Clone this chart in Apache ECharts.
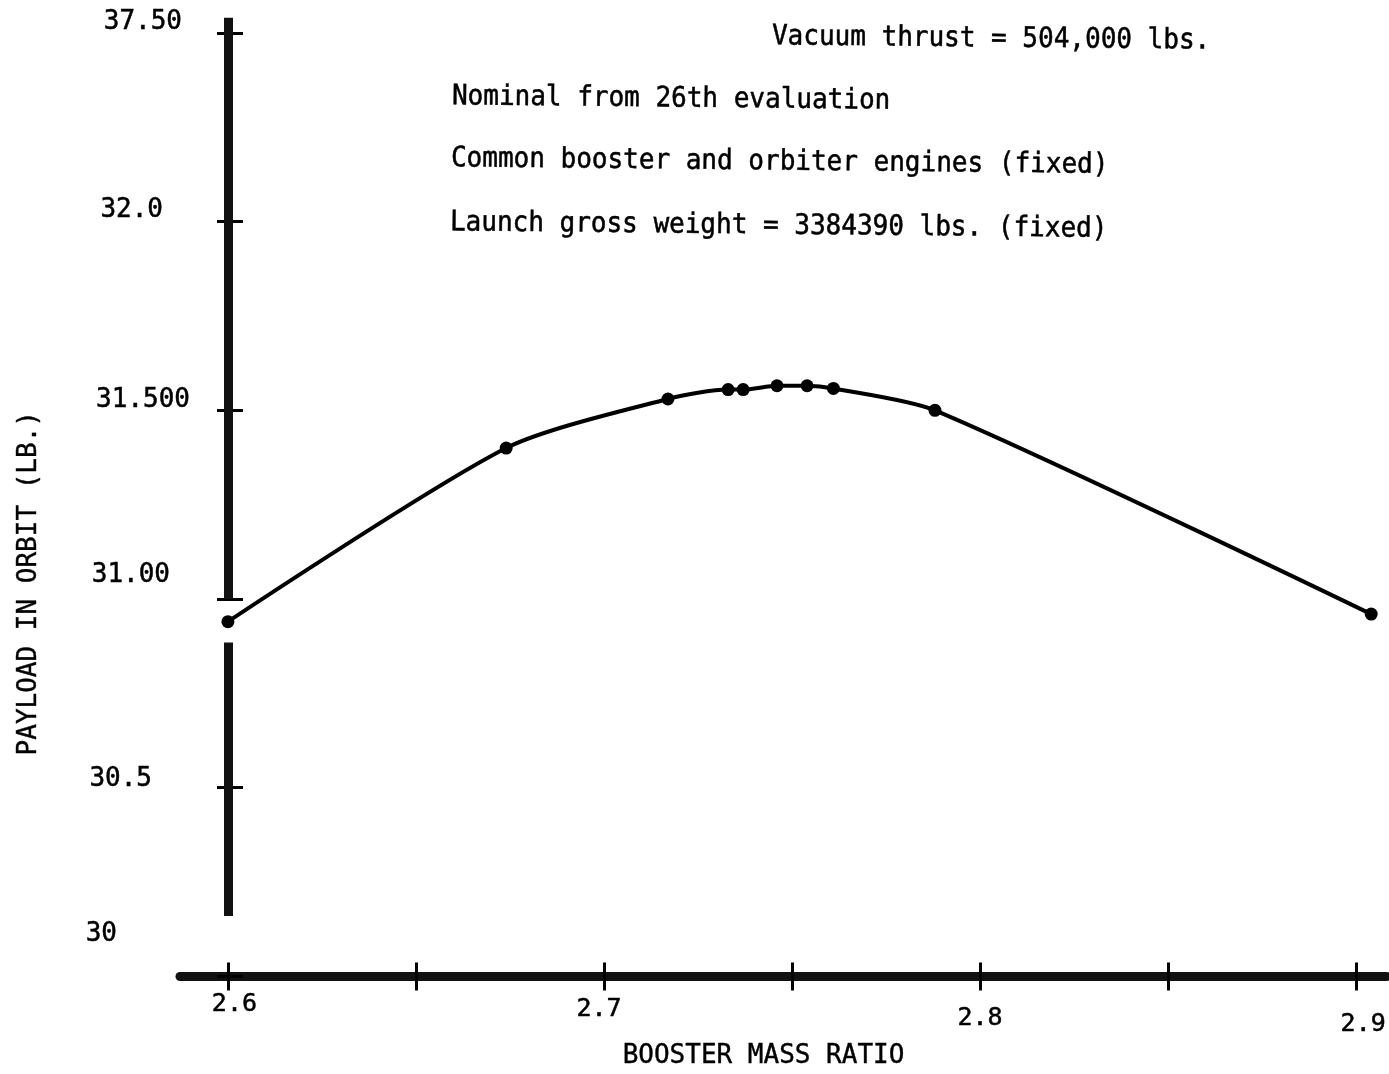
<!DOCTYPE html>
<html>
<head>
<meta charset="utf-8">
<script src="https://cdn.jsdelivr.net/npm/echarts@6/dist/echarts.min.js"></script>
<style>
  html, body { margin: 0; padding: 0; background: #fff; }
  #chart { width: 1389px; height: 1074px; }
</style>
</head>
<body>
<div id="chart"></div>
<script>
// Payload in orbit versus booster mass ratio
const massRatio = [2.600, 2.674, 2.717, 2.733, 2.737, 2.746, 2.754, 2.761, 2.788, 2.904];
const payload   = [30.94, 31.40, 31.53, 31.555, 31.555, 31.565, 31.565, 31.558, 31.50, 30.96];

// Axis ticks and their printed labels
const yTickValues = [30, 30.5, 31, 31.5, 32, 32.5];
const yTickLabels = ['30', '30.5', '31.00', '31.500', '32.0', '37.50'];
const xTickValues = [2.6, 2.65, 2.7, 2.75, 2.8, 2.85, 2.9];
const xLabelValues = [2.6, 2.7, 2.8, 2.9];
const xTickLabels = ['2.6', '2.7', '2.8', '2.9'];

// Payload axis is drawn in two pieces with a break just below 31.0
const yAxisPieces = [[32.54, 31.0], [30.885, 30.16]];

const notes = [
  'Vacuum thrust = 504,000 lbs.',
  'Nominal from 26th evaluation',
  'Common booster and orbiter engines (fixed)',
  'Launch gross weight = 3384390 lbs. (fixed)'
];

const FONT = '"DejaVu Sans Mono", "Liberation Mono", monospace';
const INK = '#000';

function tok(size, pad) {
  return { fontFamily: FONT, fontSize: size, color: INK, padding: pad,
           textBorderColor: INK, textBorderWidth: 0.5 };
}

// per-label nudges reproduce the hand-placed typewriter labels
const yRich = {
  y0: tok(26, [0, 73, 84, 0]),
  y1: tok(26, [0, 38, 16, 0]),
  y2: tok(26, [0, 20, 48, 0]),
  y3: tok(26, [0, 0, 20, 0]),
  y4: tok(26, [0, 27, 22, 0]),
  y5: tok(26, [0, 8, 22, 0])
};
const xRich = {
  x0: tok(25, [0, 0, 0, 13]),
  x1: tok(25, [5, 10, 0, 0]),
  x2: tok(25, [14, 0, 0, 0]),
  x3: tok(25, [20, 0, 0, 14])
};

const X_MIN = 2.58726, X_MAX = 2.9082;
const Y_MIN = 30, Y_MAX = 32.55;

const yBase = {
  type: 'value', min: Y_MIN, max: Y_MAX, position: 'left', offset: -50,
  splitLine: { show: false },
  axisLine: { show: false }
};
const xBase = {
  type: 'value', min: X_MIN, max: X_MAX, position: 'bottom',
  splitLine: { show: false }
};

function note(i, x, y) {
  return {
    type: 'text', x: x, y: y, rotation: -0.01, scaleY: 1.08,
    style: { text: notes[i], font: '26px ' + FONT, fill: INK, stroke: INK, lineWidth: 0.5,
             textAlign: 'left', textVerticalAlign: 'middle' }
  };
}

const chart = echarts.init(document.getElementById('chart'), null, { renderer: 'canvas' });

chart.setOption({
  backgroundColor: '#fff',
  animation: false,
  grid: { left: 180, right: 0, top: 14, bottom: 91, containLabel: false },
  xAxis: [
    Object.assign({}, xBase, {
      name: 'BOOSTER MASS RATIO',
      nameLocation: 'middle',
      nameGap: 56,
      nameTextStyle: { fontFamily: FONT, fontSize: 26, color: INK, padding: [0, 40, 0, 0],
                       textBorderColor: INK, textBorderWidth: 0.4 },
      axisLine: { show: true, lineStyle: { color: '#111', width: 9 } },
      axisTick: { show: true, inside: false, length: 14, customValues: xTickValues,
                  lineStyle: { color: INK, width: 3 } },
      axisLabel: {
        show: true, margin: 16, customValues: xLabelValues,
        formatter: function (v) {
          const i = xLabelValues.findIndex(t => Math.abs(t - v) < 1e-6);
          return '{x' + i + '|' + xTickLabels[i] + '}';
        },
        rich: xRich
      }
    }),
    Object.assign({}, xBase, {
      axisLine: { show: false },
      axisTick: { show: true, inside: true, length: 14, customValues: xTickValues,
                  lineStyle: { color: INK, width: 3 } },
      axisLabel: { show: false }
    })
  ],
  yAxis: [
    Object.assign({}, yBase, {
      name: 'PAYLOAD IN ORBIT (LB.)',
      nameLocation: 'middle',
      nameGap: 188,
      nameTextStyle: { fontFamily: FONT, fontSize: 26, color: INK, padding: [0, 176, 0, 0],
                       textBorderColor: INK, textBorderWidth: 0.4 },
      axisTick: { show: true, inside: false, length: 13, customValues: yTickValues,
                  lineStyle: { color: INK, width: 3 } },
      axisLabel: {
        show: true, margin: 40, align: 'right', customValues: yTickValues,
        formatter: function (v) {
          const i = yTickValues.findIndex(t => Math.abs(t - v) < 1e-6);
          return '{y' + i + '|' + yTickLabels[i] + '}';
        },
        rich: yRich
      }
    }),
    Object.assign({}, yBase, {
      axisTick: { show: true, inside: true, length: 13, customValues: yTickValues,
                  lineStyle: { color: INK, width: 3 } },
      axisLabel: { show: false }
    })
  ],
  graphic: [
    note(0, 772, 37),
    note(1, 452, 97),
    note(2, 451, 159),
    note(3, 450, 223)
  ],
  series: [{
    type: 'line',
    xAxisIndex: 0,
    yAxisIndex: 0,
    data: massRatio.map((m, i) => [m, payload[i]]),
    smooth: 0.25,
    clip: false,
    symbol: 'circle',
    symbolSize: 13,
    itemStyle: { color: INK },
    lineStyle: { color: INK, width: 4 },
    emphasis: { disabled: true },
    markLine: {
      silent: true,
      symbol: ['none', 'none'],
      label: { show: false },
      emphasis: { disabled: true },
      lineStyle: { color: '#111', width: 9, type: 'solid' },
      data: yAxisPieces.map(p => [{ coord: [2.6, p[0]] }, { coord: [2.6, p[1]] }])
    }
  }]
});
</script>
</body>
</html>
